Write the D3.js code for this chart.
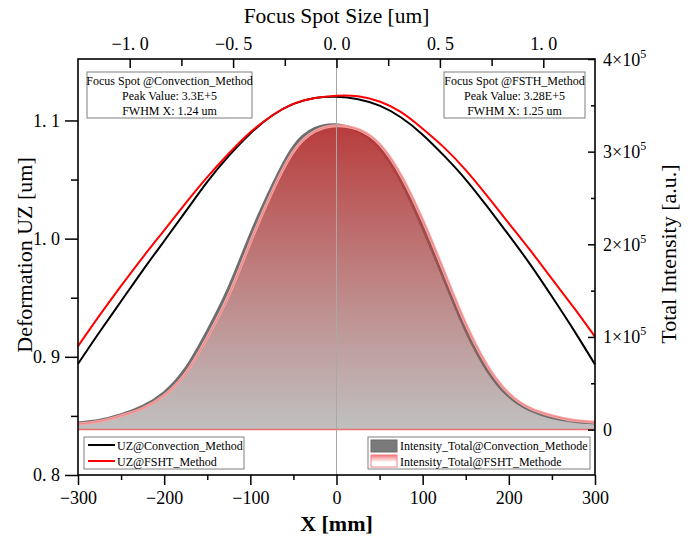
<!DOCTYPE html>
<html>
<head>
<meta charset="utf-8">
<script src="https://cdn.jsdelivr.net/npm/d3@7/dist/d3.min.js"></script>
<style>
	body { margin: 0; background: #ffffff; }
	svg text { font-family: "Liberation Serif", "Times New Roman", serif; fill: #000; }
</style>
</head>
<body>
<svg id="chart"></svg>
<script>
// ========== DATA ==========
var xMM = [-300, -275, -250, -225, -200, -175, -150, -125, -100, -75, -50, -25, 0,
	25, 50, 75, 100, 125, 150, 175, 200, 225, 250, 275, 300];

// deformation UZ [um]
var uzConvection = [0.894, 0.921, 0.947, 0.973, 0.998, 1.023, 1.048, 1.070, 1.089, 1.104, 1.114, 1.119, 1.120,
	1.118, 1.1125, 1.1025, 1.088, 1.070, 1.050, 1.027, 1.003, 0.978, 0.951, 0.923, 0.8935];
var uzFSHT = [0.909, 0.935, 0.960, 0.984, 1.007, 1.030, 1.052, 1.072, 1.090, 1.104, 1.114, 1.119, 1.121,
	1.1205, 1.116, 1.107, 1.093, 1.077, 1.058, 1.036, 1.013, 0.990, 0.966, 0.942, 0.917];

// total intensity, in units of 10^5 a.u.
var intensityConvection = [0.07, 0.10, 0.16, 0.25, 0.40, 0.66, 1.06, 1.53, 2.10, 2.62, 3.05, 3.25, 3.29,
	3.22, 3.04, 2.68, 2.18, 1.62, 1.07, 0.64, 0.36, 0.21, 0.13, 0.09, 0.07];
var intensityFSHT = [0.06, 0.09, 0.15, 0.23, 0.37, 0.61, 0.99, 1.45, 2.02, 2.56, 3.00, 3.22, 3.28,
	3.24, 3.08, 2.74, 2.26, 1.70, 1.14, 0.69, 0.39, 0.23, 0.15, 0.10, 0.08];

// tick values
var bottomTicks = [-300, -200, -100, 0, 100, 200, 300];
var bottomMinor = [-250, -150, -50, 50, 150, 250];
var topTicks = [-1.0, -0.5, 0.0, 0.5, 1.0];
var topMinor = [-0.75, -0.25, 0.25, 0.75];
var leftTicks = [0.8, 0.9, 1.0, 1.1];
var leftMinor = [0.85, 0.95, 1.05];
var rightTicks = [0, 1, 2, 3, 4];
var rightMinor = [0.5, 1.5, 2.5, 3.5];

// texts
var noteConvection = ['Focus Spot @Convection_Method', 'Peak Value: 3.3E+5', 'FWHM X: 1.24 um'];
var noteFSHT = ['Focus Spot @FSTH_Method', 'Peak Value: 3.28E+5', 'FWHM X: 1.25 um'];
var lineLegend = ['UZ@Convection_Method', 'UZ@FSHT_Method'];
var areaLegend = ['Intensity_Total@Convection_Methode', 'Intensity_Total@FSHT_Methode'];

drawChart();

function drawChart() {
	// ========== LAYOUT ==========
	var width = 693;
	var height = 540;
	var left = 78, right = 595, top = 59, bottom = 475;

	var svg = d3.select('svg#chart')
		.attr('width', width)
		.attr('height', height);

	var x = d3.scaleLinear().domain([-300, 300]).range([left, right]);
	var xTop = d3.scaleLinear().domain([-1.25, 1.25]).range([left, right]);
	var yL = d3.scaleLinear().domain([0.8, 1.152]).range([bottom, top]);
	var yR = d3.scaleLinear().domain([-0.49, 4]).range([bottom, top]);

	var fmtDec = function(d) { return d3.format('.1f')(d).replace('.', '. ').replace('-', '\u2212'); };
	var fmtInt = function(d) { return String(d).replace('-', '\u2212'); };

	// gradients
	var defs = svg.append('defs');
	var redFade = defs.append('linearGradient')
		.attr('id', 'redFade')
		.attr('x1', 0).attr('y1', 0).attr('x2', 0).attr('y2', 1);
	redFade.append('stop').attr('offset', '0%').attr('stop-color', '#b83232').attr('stop-opacity', 0.93);
	redFade.append('stop').attr('offset', '100%').attr('stop-color', '#c04040').attr('stop-opacity', 0);

	var pinkFade = defs.append('linearGradient')
		.attr('id', 'pinkFade')
		.attr('x1', 0).attr('y1', 0).attr('x2', 0).attr('y2', 1);
	pinkFade.append('stop').attr('offset', '0%').attr('stop-color', '#f07878');
	pinkFade.append('stop').attr('offset', '60%').attr('stop-color', '#ffffff');
	pinkFade.append('stop').attr('offset', '100%').attr('stop-color', '#ffffff');

	// ========== INTENSITY AREAS ==========
	function areaOf(values) {
		return d3.area()
			.x(function(d, i) { return x(xMM[i]); })
			.y0(yR(0))
			.y1(function(d) { return yR(d); })
			.curve(d3.curveNatural)(values);
	}
	function lineOf(values, scale) {
		return d3.line()
			.x(function(d, i) { return x(xMM[i]); })
			.y(function(d) { return scale(d); })
			.curve(d3.curveNatural)(values);
	}

	svg.append('path')
		.attr('d', areaOf(intensityConvection))
		.attr('fill', '#c0c0c0');
	svg.append('path')
		.attr('d', lineOf(intensityConvection, yR))
		.attr('fill', 'none')
		.attr('stroke', '#6e6e6e')
		.attr('stroke-width', 3);

	svg.append('path')
		.attr('d', areaOf(intensityFSHT))
		.attr('fill', 'url(#redFade)');
	svg.append('path')
		.attr('d', lineOf(intensityFSHT, yR))
		.attr('fill', 'none')
		.attr('stroke', '#f4a4a4')
		.attr('stroke-width', 3);
	svg.append('path')
		.attr('d', lineOf(intensityFSHT, yR))
		.attr('fill', 'none')
		.attr('stroke', '#e86a6a')
		.attr('stroke-width', 1)
		.attr('opacity', 0.5);

	// baseline at zero intensity
	svg.append('line')
		.attr('x1', left).attr('x2', right)
		.attr('y1', yR(0)).attr('y2', yR(0))
		.attr('stroke', '#e87070')
		.attr('stroke-width', 1.5);

	// zero line
	svg.append('line')
		.attr('x1', x(0)).attr('x2', x(0))
		.attr('y1', top).attr('y2', bottom)
		.attr('stroke', '#a8a8a8')
		.attr('stroke-width', 1);

	// ========== UZ LINES ==========
	svg.append('path')
		.attr('d', lineOf(uzConvection, yL))
		.attr('fill', 'none')
		.attr('stroke', '#000000')
		.attr('stroke-width', 2);
	svg.append('path')
		.attr('d', lineOf(uzFSHT, yL))
		.attr('fill', 'none')
		.attr('stroke', '#ff0000')
		.attr('stroke-width', 2);

	// ========== AXES ==========
	function styleAxis(g) {
		g.select('.domain').remove();
		g.selectAll('line').attr('stroke', '#000').attr('stroke-width', 1.5);
		g.selectAll('text')
			.style('font-family', '"Liberation Serif", serif')
			.style('font-size', '18px')
			.attr('fill', '#000');
	}

	// bottom
	svg.append('g').attr('transform', 'translate(0,' + bottom + ')')
		.call(d3.axisBottom(x).tickValues(bottomMinor).tickSize(5).tickFormat(''))
		.call(styleAxis);
	svg.append('g').attr('transform', 'translate(0,' + bottom + ')')
		.call(d3.axisBottom(x).tickValues(bottomTicks).tickSize(10).tickPadding(6).tickFormat(fmtInt))
		.call(styleAxis);

	// top (ticks point inside)
	svg.append('g').attr('transform', 'translate(0,' + top + ')')
		.call(d3.axisTop(xTop).tickValues(topMinor).tickSize(-7).tickFormat(''))
		.call(styleAxis);
	svg.append('g').attr('transform', 'translate(0,' + top + ')')
		.call(d3.axisTop(xTop).tickValues(topTicks).tickSize(-9).tickPadding(9).tickFormat(fmtDec))
		.call(styleAxis);

	// left
	svg.append('g').attr('transform', 'translate(' + left + ',0)')
		.call(d3.axisLeft(yL).tickValues(leftMinor).tickSize(7).tickFormat(''))
		.call(styleAxis);
	svg.append('g').attr('transform', 'translate(' + left + ',0)')
		.call(d3.axisLeft(yL).tickValues(leftTicks).tickSize(13).tickPadding(5).tickFormat(fmtDec))
		.call(styleAxis);

	// right (ticks point inside)
	svg.append('g').attr('transform', 'translate(' + right + ',0)')
		.call(d3.axisRight(yR).tickValues(rightMinor).tickSize(-4).tickFormat(''))
		.call(styleAxis);
	var rAxis = svg.append('g').attr('transform', 'translate(' + right + ',0)')
		.call(d3.axisRight(yR).tickValues(rightTicks).tickSize(-7).tickFormat(''))
		.call(styleAxis);
	rAxis.selectAll('.tick').each(function(d) {
		var t = d3.select(this).append('text')
			.attr('x', 8)
			.attr('y', 6)
			.attr('text-anchor', 'start')
			.style('font-size', '18px');
		if (d === 0) {
			t.text('0');
		} else {
			t.append('tspan').text(d + '\u00d710');
			t.append('tspan').attr('dy', -8).style('font-size', '12px').text('5');
		}
	});

	// frame
	svg.append('rect')
		.attr('x', left).attr('y', top)
		.attr('width', right - left).attr('height', bottom - top)
		.attr('fill', 'none')
		.attr('stroke', '#000')
		.attr('stroke-width', 1.6);

	// axis titles
	svg.append('text')
		.attr('x', (left + right) / 2).attr('y', 23)
		.attr('text-anchor', 'middle')
		.style('font-size', '21.5px')
		.text('Focus Spot Size [um]');
	svg.append('text')
		.attr('x', (left + right) / 2).attr('y', 531)
		.attr('text-anchor', 'middle')
		.style('font-size', '22px')
		.style('font-weight', 'bold')
		.text('X [mm]');
	svg.append('text')
		.attr('transform', 'translate(32,255)rotate(-90)')
		.attr('text-anchor', 'middle')
		.style('font-size', '22px')
		.text('Deformation UZ [um]');
	svg.append('text')
		.attr('transform', 'translate(676,254)rotate(-90)')
		.attr('text-anchor', 'middle')
		.style('font-size', '22px')
		.text('Total Intensity [a.u.]');

	// ========== NOTES ==========
	function drawNote(lines, bx, bw) {
		svg.append('rect')
			.attr('x', bx).attr('y', 72)
			.attr('width', bw).attr('height', 46)
			.attr('fill', '#ffffff')
			.attr('stroke', '#808080')
			.attr('stroke-width', 1);
		lines.forEach(function(s, i) {
			svg.append('text')
				.attr('x', bx + bw / 2).attr('y', 85 + i * 15)
				.attr('text-anchor', 'middle')
				.style('font-size', '12px')
				.text(s);
		});
	}
	drawNote(noteConvection, 87, 165);
	drawNote(noteFSHT, 444, 141);

	// ========== LEGENDS ==========
	svg.append('rect')
		.attr('x', 84).attr('y', 437).attr('width', 160).attr('height', 32)
		.attr('fill', '#ffffff').attr('stroke', '#808080').attr('stroke-width', 1);
	var lineColors = ['#000000', '#ff0000'];
	lineLegend.forEach(function(s, i) {
		svg.append('line')
			.attr('x1', 88).attr('x2', 115)
			.attr('y1', 445 + i * 16).attr('y2', 445 + i * 16)
			.attr('stroke', lineColors[i]).attr('stroke-width', 2);
		svg.append('text')
			.attr('x', 117).attr('y', 449.5 + i * 16)
			.style('font-size', '12px')
			.text(s);
	});

	svg.append('rect')
		.attr('x', 368).attr('y', 437).attr('width', 222).attr('height', 32)
		.attr('fill', '#ffffff').attr('stroke', '#808080').attr('stroke-width', 1);
	var swatchFill = ['#7a7a7a', 'url(#pinkFade)'];
	var swatchStroke = ['#6a6a6a', '#f08080'];
	areaLegend.forEach(function(s, i) {
		svg.append('rect')
			.attr('x', 371).attr('y', 440 + i * 15)
			.attr('width', 26).attr('height', 12)
			.attr('fill', swatchFill[i])
			.attr('stroke', swatchStroke[i]).attr('stroke-width', 1);
		svg.append('text')
			.attr('x', 400).attr('y', 449.5 + i * 16)
			.style('font-size', '12px')
			.text(s);
	});
}
</script>
</body>
</html>
